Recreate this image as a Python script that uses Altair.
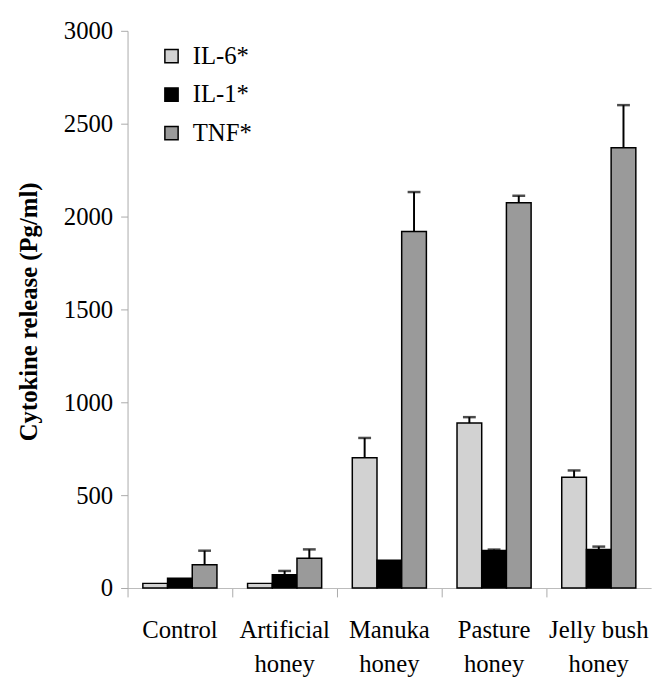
import altair as alt
import pandas as pd

groups = ["Control", "Artificial honey", "Manuka honey", "Pasture honey", "Jelly bush honey"]
cytokines = ["IL-6*", "IL-1*", "TNF*"]
colors = ["#d2d2d2", "#000000", "#9a9a9a"]

il6 = [25, 25, 702, 888, 596]
il6_err = [0, 0, 106, 32, 37]
il1 = [52, 72, 149, 202, 207]
il1_err = [0, 20, 0, 5, 16]
tnf = [125, 160, 1920, 2074, 2370]
tnf_err = [76, 48, 212, 38, 230]

rows = []
for name, vals, errs in [("IL-6*", il6, il6_err), ("IL-1*", il1, il1_err), ("TNF*", tnf, tnf_err)]:
    for g, v, e in zip(groups, vals, errs):
        rows.append({"group": g, "cytokine": name, "value": v, "err": e})
df = pd.DataFrame(rows)

SERIF = "Liberation Serif"

x_enc = alt.X(
    "group:N",
    sort=groups,
    scale=alt.Scale(paddingInner=0, paddingOuter=0),
    axis=alt.Axis(
        title=None,
        labelAngle=0,
        labelFontSize=25,
        labelColor="#000",
        labelPadding=21,
        labelLineHeight=35,
        labelBaseline="top",
        tickSize=9,
        tickColor="#aaa",
        domainColor="#bbb",
        bandPosition=0,
        labelExpr="datum.label == 'Jelly bush honey' ? ['Jelly bush', 'honey'] : split(datum.label, ' ')",
    ),
)
xo_enc = alt.XOffset("cytokine:N", sort=cytokines, scale=alt.Scale(paddingInner=0, paddingOuter=0.62))

base = alt.Chart(df).encode(x=x_enc, xOffset=xo_enc)

bars = base.mark_bar(stroke="#000", strokeWidth=1.5).encode(
    y=alt.Y(
        "value:Q",
        scale=alt.Scale(domain=[0, 3000], nice=False),
        axis=alt.Axis(
            values=[0, 500, 1000, 1500, 2000, 2500, 3000],
            format="d",
            grid=False,
            labelFontSize=25,
            labelColor="#000",
            labelPadding=8,
            tickSize=7,
            tickColor="#aaa",
            domainColor="#aaa",
            title="Cytokine release (Pg/ml)",
            titleFontSize=25,
            titleFontWeight="bold",
            titleColor="#000",
            titleAngle=-90,
            titleX=-100,
            titleY=284,
            titleAlign="center",
            titleBaseline="middle",
        ),
    ),
    fill=alt.Fill(
        "cytokine:N",
        sort=cytokines,
        scale=alt.Scale(domain=cytokines, range=colors),
        legend=alt.Legend(
            title=None,
            orient="none",
            legendX=32,
            legendY=13,
            symbolType="square",
            symbolSize=180,
            symbolStrokeColor="#000",
            symbolStrokeWidth=1.5,
            symbolOpacity=1,
            labelFontSize=25,
            labelColor="#000",
            labelOffset=9,
            rowPadding=13,
        ),
    ),
)

errs = base.transform_filter("datum.err > 0").transform_calculate(top="datum.value + datum.err")

err_rule = errs.mark_rule(color="#000", strokeWidth=2).encode(y="value:Q", y2="top:Q")
err_cap = errs.mark_tick(color="#000", thickness=2.5, size=13).encode(y="top:Q")

chart = (
    alt.layer(bars, err_rule, err_cap)
    .properties(
        width=530,
        height=564,
        autosize=alt.AutoSizeParams(type="none"),
        padding={"left": 121, "top": 19, "right": 12, "bottom": 89},
        background="#ffffff",
    )
    .configure(font=SERIF)
    .configure_axis(labelFont=SERIF, titleFont=SERIF)
    .configure_legend(labelFont=SERIF)
    .configure_view(stroke=None)
)

chart.save("out.html", embed_options={"renderer": "svg", "actions": False})
